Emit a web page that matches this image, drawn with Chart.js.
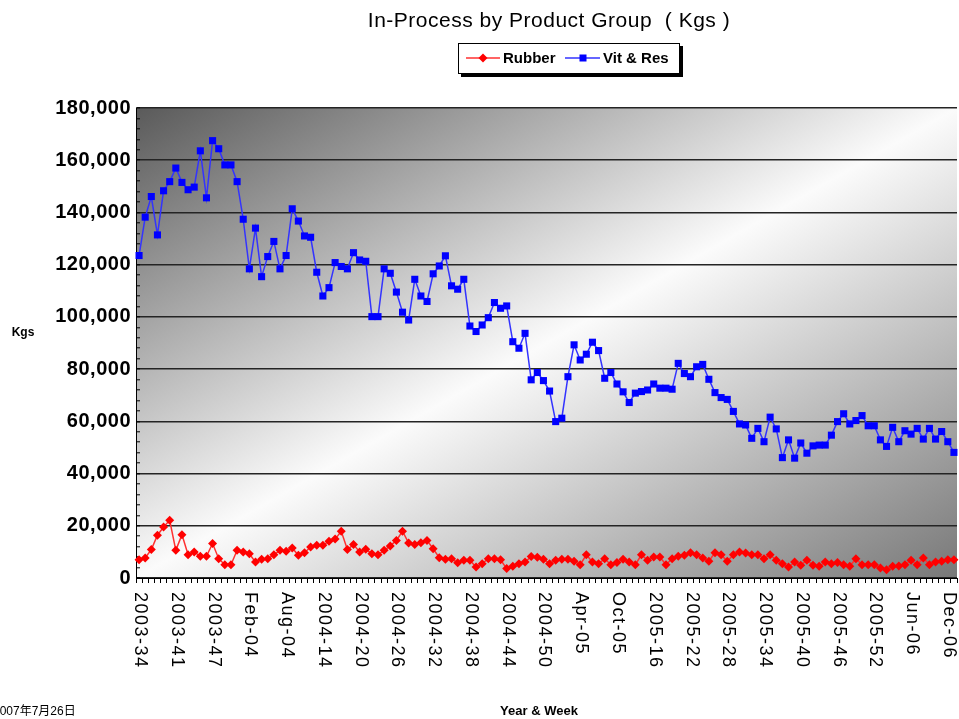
<!DOCTYPE html>
<html>
<head>
<meta charset="utf-8">
<title>In-Process by Product Group (Kgs)</title>
<script src="https://cdn.jsdelivr.net/npm/chart.js@4.4.1/dist/chart.umd.min.js"></script>
<style>
  html, body { margin: 0; padding: 0; background: #fff; overflow: hidden; }
  #wrap { width: 962px; height: 719px; }
</style>
</head>
<body>
<div id="wrap"><canvas id="inprocChart" width="962" height="719"></canvas></div>
<script>
// Year & week categories (Excel turned weeks 01-12 into month labels)
const weeks = [
  '2003-34', '2003-35', '2003-36', '2003-37', '2003-38', '2003-39',
  '2003-41', '2003-42', '2003-43', '2003-44', '2003-45', '2003-46',
  '2003-47', '2003-48', '2003-49', '2003-50', '2003-51', '2003-52',
  'Feb-04', 'Mar-04', 'Apr-04', 'May-04', 'Jun-04', 'Jul-04',
  'Aug-04', 'Sep-04', 'Oct-04', 'Nov-04', 'Dec-04', '2004-13',
  '2004-14', '2004-15', '2004-16', '2004-17', '2004-18', '2004-19',
  '2004-20', '2004-21', '2004-22', '2004-23', '2004-24', '2004-25',
  '2004-26', '2004-27', '2004-28', '2004-29', '2004-30', '2004-31',
  '2004-32', '2004-33', '2004-34', '2004-35', '2004-36', '2004-37',
  '2004-38', '2004-39', '2004-40', '2004-41', '2004-42', '2004-43',
  '2004-44', '2004-45', '2004-46', '2004-47', '2004-48', '2004-49',
  '2004-50', '2004-51', '2004-52', 'Jan-05', 'Feb-05', 'Mar-05',
  'Apr-05', 'May-05', 'Jun-05', 'Jul-05', 'Aug-05', 'Sep-05',
  'Oct-05', 'Nov-05', 'Dec-05', '2005-13', '2005-14', '2005-15',
  '2005-16', '2005-17', '2005-18', '2005-19', '2005-20', '2005-21',
  '2005-22', '2005-23', '2005-24', '2005-25', '2005-26', '2005-27',
  '2005-28', '2005-29', '2005-30', '2005-31', '2005-32', '2005-33',
  '2005-34', '2005-35', '2005-36', '2005-37', '2005-38', '2005-39',
  '2005-40', '2005-41', '2005-42', '2005-43', '2005-44', '2005-45',
  '2005-46', '2005-47', '2005-48', '2005-49', '2005-50', '2005-51',
  '2005-52', 'Jan-06', 'Feb-06', 'Mar-06', 'Apr-06', 'May-06',
  'Jun-06', 'Jul-06', 'Aug-06', 'Sep-06', 'Oct-06', 'Nov-06',
  'Dec-06', '2006-13'
];

const rubber = [
  7000, 7700, 10900, 16400, 19500, 22100, 10600, 16600, 8900, 10000,
  8300, 8300, 13200, 7400, 5100, 5100, 10600, 10000, 9300, 6100,
  7200, 7400, 8900, 10600, 10200, 11500, 8700, 9700, 11900, 12500,
  12500, 14100, 14900, 17900, 10900, 12800, 10000, 11000, 9300, 8900,
  10600, 12300, 14400, 17900, 13400, 12800, 13500, 14400, 11200, 7800,
  7200, 7400, 5800, 6800, 6800, 4200, 5500, 7400, 7400, 7000,
  3600, 4500, 5500, 6100, 8200, 7900, 7200, 5500, 6800, 7200,
  7200, 6400, 5100, 8900, 6100, 5500, 7400, 5100, 5900, 7200,
  6100, 5100, 8900, 6800, 8000, 8000, 5100, 7400, 8300, 8700,
  9700, 8900, 7700, 6400, 9700, 8900, 6400, 8900, 10000, 9600,
  8900, 8900, 7400, 8900, 6800, 5500, 4200, 6100, 4900, 6800,
  4900, 4500, 6100, 5500, 5900, 5100, 4500, 7400, 5100, 5100,
  5100, 3800, 3200, 4500, 4600, 5100, 6800, 5100, 7700, 5100,
  6100, 6400, 7000, 7000
];

const vitRes = [
  123500, 138200, 146100, 131400, 148300, 151800, 157000, 151500, 148700, 149700,
  163600, 145600, 167500, 164400, 158200, 158200, 151800, 137400, 118400, 134000,
  115400, 123100, 128900, 118400, 123500, 141400, 136700, 131000, 130500, 117100,
  108000, 111200, 120800, 119300, 118400, 124600, 121800, 121300, 100100, 100100,
  118400, 116700, 109500, 101800, 98800, 114400, 108000, 105900, 116500, 119500,
  123400, 111900, 110600, 114400, 96500, 94400, 96900, 99700, 105500, 103300,
  104200, 90500, 88000, 93700, 75900, 78700, 75600, 71600, 59900, 61200,
  77100, 89300, 83500, 85700, 90300, 87100, 76500, 78700, 74300, 71300,
  67200, 70800, 71400, 72000, 74300, 72700, 72700, 72300, 82200, 78300,
  77100, 80900, 81800, 76100, 71000, 69100, 68400, 63800, 59000, 58600,
  53500, 57300, 52200, 61600, 57100, 46100, 52900, 45900, 51700, 47800,
  50600, 50900, 50900, 54700, 59900, 62900, 59000, 60300, 62200, 58300,
  58300, 52900, 50400, 57700, 52200, 56400, 55100, 57300, 53200, 57300,
  53200, 56100, 52200, 48100
];

const yMax = 180000;
const yMajor = 20000;   // labelled gridlines
const yMinor = 4000;    // small tick marks on the axis
const labelEvery = 6;   // one x label every 6 weeks

const decorations = {
  id: 'decorations',
  beforeDraw(chart) {
    const { ctx, chartArea: a } = chart;
    ctx.save();
    ctx.fillStyle = '#fff';
    ctx.fillRect(0, 0, chart.width, chart.height);
    // diagonal grey shading of the plot area
    ctx.translate(a.left, a.top);
    ctx.scale(a.right - a.left, a.bottom - a.top);
    const g = ctx.createLinearGradient(0, 0, 1, 1);
    g.addColorStop(0, '#5a5a5a');
    g.addColorStop(0.5, '#fbfbfb');
    g.addColorStop(1, '#787878');
    ctx.fillStyle = g;
    ctx.fillRect(0, 0, 1, 1);
    ctx.restore();
    ctx.letterSpacing = '0.5px'; // used by the y tick labels
  },
  afterDraw(chart) {
    const { ctx } = chart;
    const xs = chart.scales.x;
    ctx.save();
    ctx.fillStyle = '#000';

    // rotated week labels, reading top to bottom
    ctx.letterSpacing = '1.5px';
    ctx.font = '18px Arial';
    ctx.textAlign = 'left';
    ctx.textBaseline = 'middle';
    weeks.forEach((w, i) => {
      if (i % labelEvery) return;
      ctx.save();
      ctx.translate(xs.getPixelForValue(i) + 1, 592);
      ctx.rotate(Math.PI / 2);
      ctx.fillText(w, 0, 0);
      ctx.restore();
    });

    // title
    ctx.letterSpacing = '0.5px';
    ctx.font = '21px Arial';
    ctx.textAlign = 'center';
    ctx.textBaseline = 'alphabetic';
    ctx.fillText('In-Process by Product Group  ( Kgs )', 549, 27);

    // axis titles
    ctx.letterSpacing = '0px';
    ctx.font = 'bold 12px Arial';
    ctx.textBaseline = 'middle';
    ctx.fillText('Kgs', 23, 333);
    ctx.font = 'bold 13px Arial';
    ctx.fillText('Year & Week', 539, 711);

    // print date, bottom left
    ctx.font = '12px Arial, "Noto Sans CJK JP"';
    ctx.textAlign = 'left';
    ctx.fillText('2007年7月26日', -7, 712);

    // legend box with shadow
    ctx.fillStyle = '#000';
    ctx.fillRect(461, 46, 222, 31);
    ctx.fillStyle = '#fff';
    ctx.fillRect(458, 43, 222, 31);
    ctx.strokeStyle = '#000';
    ctx.lineWidth = 1;
    ctx.strokeRect(458.5, 43.5, 221, 30);

    const ly = 58;
    ctx.lineWidth = 1.5;
    ctx.strokeStyle = '#ff3030';
    ctx.beginPath(); ctx.moveTo(466, ly); ctx.lineTo(500, ly); ctx.stroke();
    ctx.fillStyle = '#ff0000';
    ctx.beginPath();
    ctx.moveTo(483, ly - 4.5); ctx.lineTo(487.5, ly); ctx.lineTo(483, ly + 4.5); ctx.lineTo(478.5, ly);
    ctx.closePath(); ctx.fill();

    ctx.strokeStyle = '#3333ff';
    ctx.beginPath(); ctx.moveTo(565, ly); ctx.lineTo(600, ly); ctx.stroke();
    ctx.fillStyle = '#0000ff';
    ctx.fillRect(579.5, ly - 3.5, 7, 7);

    ctx.fillStyle = '#000';
    ctx.font = 'bold 15px Arial';
    ctx.fillText('Rubber', 503, ly + 1);
    ctx.fillText('Vit & Res', 603, ly + 1);
    ctx.restore();
  }
};

const ctx = document.getElementById('inprocChart').getContext('2d');
new Chart(ctx, {
  type: 'line',
  data: {
    labels: weeks,
    datasets: [
      {
        label: 'Rubber',
        data: rubber,
        borderColor: '#ff3030',
        borderWidth: 1.5,
        pointStyle: 'rectRot',
        pointRadius: 4.5,
        pointBorderWidth: 0,
        pointBackgroundColor: '#ff0000',
        tension: 0,
        clip: false
      },
      {
        label: 'Vit & Res',
        data: vitRes,
        borderColor: '#3333ff',
        borderWidth: 1.5,
        pointStyle: 'rect',
        pointRadius: 5,
        pointBorderWidth: 0,
        pointBackgroundColor: '#0000ff',
        tension: 0,
        clip: false
      }
    ]
  },
  options: {
    responsive: false,
    animation: false,
    layout: { padding: { top: 108, left: 0, right: 0, bottom: 0 } },
    plugins: {
      legend: { display: false },
      title: { display: false },
      tooltip: { enabled: false }
    },
    scales: {
      x: {
        type: 'category',
        offset: true,
        grid: { offset: true, drawOnChartArea: false, tickLength: 5, tickColor: '#000', tickWidth: 1 },
        border: { color: '#000', width: 1 },
        ticks: { display: false },
        afterFit: (s) => { s.height = 141; }
      },
      y: {
        min: 0,
        max: yMax,
        afterBuildTicks: (s) => {
          const t = [];
          for (let v = 0; v <= yMax; v += yMinor) t.push({ value: v });
          s.ticks = t;
        },
        grid: {
          color: (c) => (c.tick && c.tick.value % yMajor === 0 ? '#242424' : 'rgba(0,0,0,0)'),
          lineWidth: 1.6,
          tickLength: -4,
          tickColor: '#000',
          tickWidth: 1
        },
        border: { color: '#000', width: 1 },
        ticks: {
          autoSkip: false,
          color: '#000',
          padding: 9,
          font: { family: 'Arial', size: 20, weight: 'bold' },
          callback: (v) => (v % yMajor === 0 ? v.toLocaleString('en-US') : '')
        },
        afterFit: (s) => { s.width = 136; }
      }
    }
  },
  plugins: [decorations]
});
</script>
</body>
</html>
